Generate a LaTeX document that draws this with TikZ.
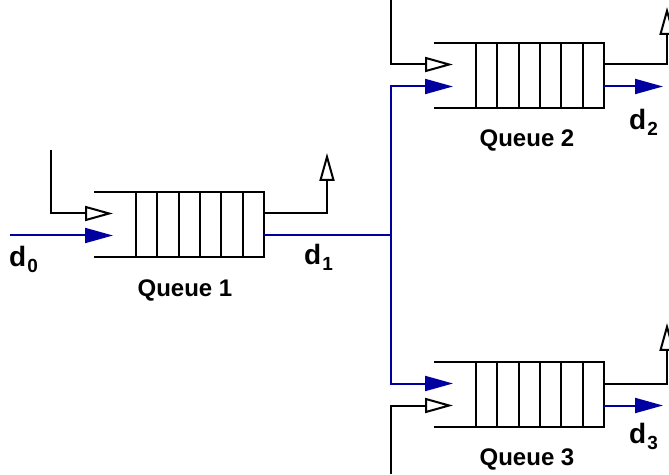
\documentclass[tikz,border=0pt]{standalone}
\usepackage{fontspec}
\setmainfont{Liberation Sans}
\usetikzlibrary{arrows.meta,calc}
\definecolor{flowblue}{RGB}{0,0,160}
\newcommand{\dlab}[1]{d\kern1pt\raisebox{-6pt}{\fontsize{19}{20}\selectfont #1}}
\tikzset{
  queue/.style={draw, line width=2pt, minimum width=128pt, minimum height=65pt, inner sep=0pt, outer sep=0pt,
    path picture={\foreach \i in {1,...,5}
      \draw[line width=2pt] ([xshift=\i*21.33pt]path picture bounding box.south west) -- ([xshift=\i*21.33pt]path picture bounding box.north west);}},
  ctrl/.style={line width=2pt, -{Triangle[open, length=28pt, width=15pt]}},
  flow/.style={flowblue, line width=2pt},
  flowarr/.style={flow, -{Triangle[length=28pt, width=15pt]}},
  dlabel/.style={font=\fontsize{28}{30}\selectfont\bfseries, inner sep=0pt, anchor=base west},
  qlabel/.style={font=\fontsize{24}{26}\selectfont\bfseries, inner sep=0pt, anchor=base},
}
\begin{document}
\begin{tikzpicture}[x=1pt, y=1pt]
    \useasboundingbox (0,0) rectangle (669,474);

    % Queues
    \node[queue] (q1) at (200,249.5) {};
    \node[queue] (q2) at (540,398.5) {};
    \node[queue] (q3) at (540,79.5) {};
    \foreach \q in {q1,q2,q3} {
        \draw[line width=2pt] (\q.north west) -- ++(-42,0);
        \draw[line width=2pt] (\q.south west) -- ++(-42,0);
    }

    % Free ends
    \coordinate (src0) at (10,238.5);
    \coordinate (ctl1) at (51,324);
    \coordinate (ctl2) at (391,474);
    \coordinate (ctl3) at (391,0);
    \coordinate (j) at (391,238.5);
    \coordinate (up1) at (327,321);
    \coordinate (up2) at (667,467);
    \coordinate (up3) at (667,151);
    \coordinate (out2) at (663,387.5);
    \coordinate (out3) at (663,68.5);

    % Queue 1
    \draw[flowarr] (src0) -- ($(q1.west)+(-23,-11)$);
    \draw[ctrl] (ctl1) |- ($(q1.west)+(-23,11)$);
    \draw[ctrl] ($(q1.east)+(0,11)$) -| (up1);
    \draw[flow] ($(q1.east)+(0,-11)$) -- (j);

    % Split
    \draw[flowarr] (j) |- ($(q2.west)+(-23,-11)$);
    \draw[flowarr] (j) |- ($(q3.west)+(-23,11)$);

    % Queue 2
    \draw[ctrl] (ctl2) |- ($(q2.west)+(-23,11)$);
    \draw[ctrl] ($(q2.east)+(0,11)$) -| (up2);
    \draw[flowarr] ($(q2.east)+(0,-11)$) -- (out2);

    % Queue 3
    \draw[ctrl] (ctl3) |- ($(q3.west)+(-23,-11)$);
    \draw[ctrl] ($(q3.east)+(0,11)$) -| (up3);
    \draw[flowarr] ($(q3.east)+(0,-11)$) -- (out3);

    % Labels
    \node[dlabel] (d0) at (9,207) {\dlab{0}};
    \node[dlabel] (d1) at (304,209) {\dlab{1}};
    \node[dlabel] (d2) at (629,344) {\dlab{2}};
    \node[dlabel] (d3) at (629,31) {\dlab{3}};
    \node[qlabel] (l1) at (185,177) {Queue 1};
    \node[qlabel] (l2) at (527,327) {Queue 2};
    \node[qlabel] (l3) at (527,9) {Queue 3};
\end{tikzpicture}
\end{document}
